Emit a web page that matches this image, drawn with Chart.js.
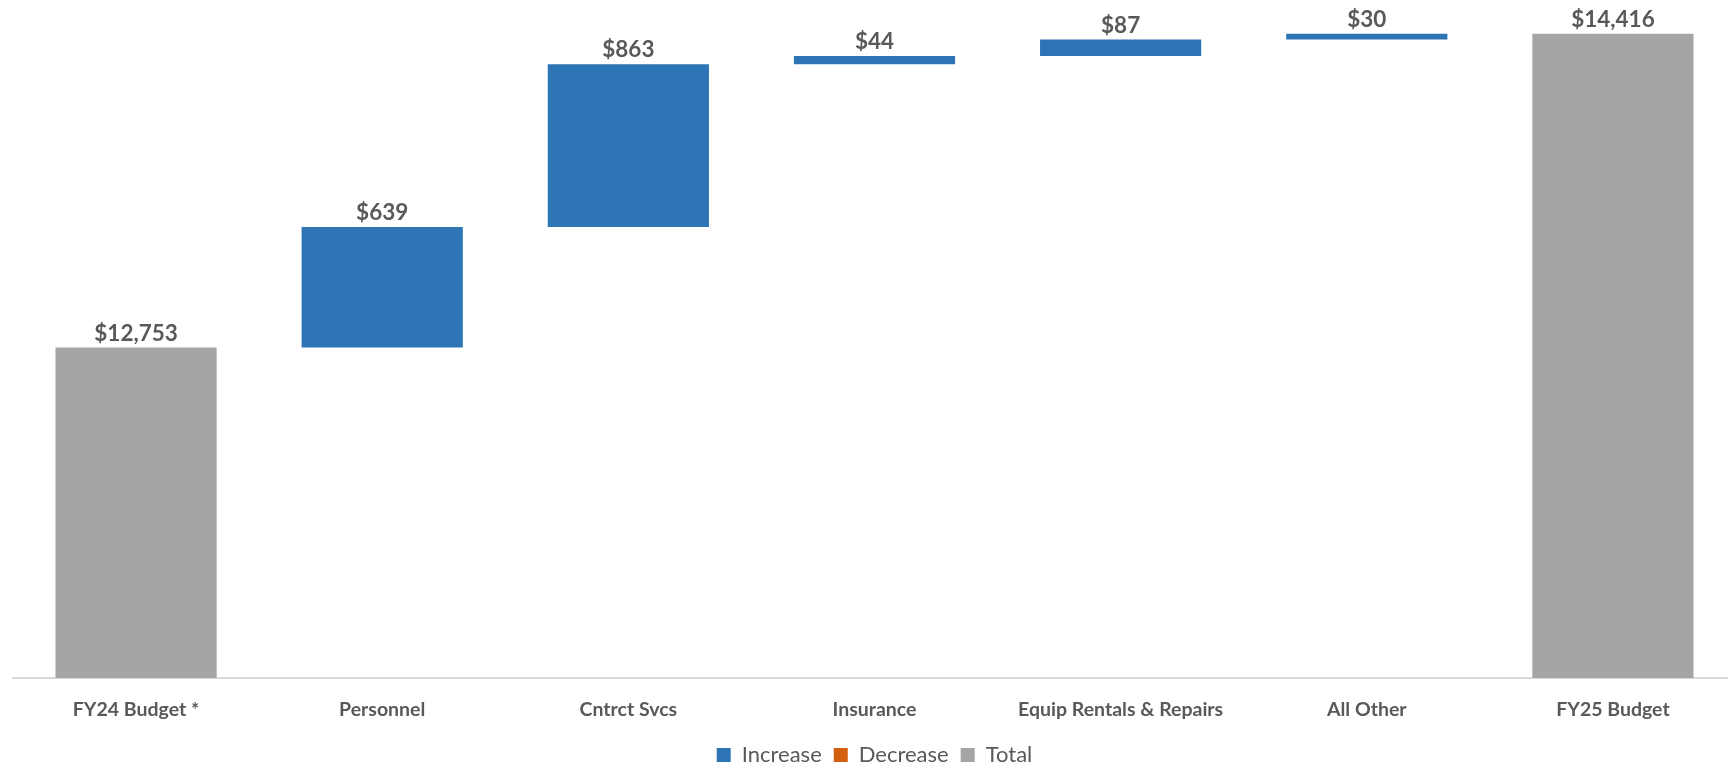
<!DOCTYPE html>
<html>
<head>
<meta charset="utf-8">
<script src="https://cdn.jsdelivr.net/npm/chart.js@4"></script>
<style>
  html, body { margin: 0; padding: 0; background: #fff; overflow: hidden; }
  #wrap { width: 1740px; height: 776px; }
</style>
</head>
<body>
<div id="wrap"><canvas id="waterfall"></canvas></div>
<script>
// data
const categories = ['FY24 Budget *', 'Personnel', 'Cntrct Svcs', 'Insurance', 'Equip Rentals & Repairs', 'All Other', 'FY25 Budget'];
const startTotal = 12753;
const endTotal = 14416;
const changes = [null, 639, 863, 44, 87, 30, null];
const axisMin = 11000;
const axisMax = 14500;

function money(v) {
    return '$' + Math.abs(v).toString().replace(/\B(?=(\d{3})+(?!\d))/g, ',');
}

// build floating bars from the running total
let running = startTotal;
const incData = [], decData = [], totData = [], labels = [];
categories.forEach(function(c, i) {
    if (i === 0) {
        totData.push([axisMin, startTotal]); incData.push(null); decData.push(null);
        labels.push({ top: startTotal, text: money(startTotal) });
    } else if (i === categories.length - 1) {
        totData.push([axisMin, endTotal]); incData.push(null); decData.push(null);
        labels.push({ top: endTotal, text: money(endTotal) });
    } else {
        const next = running + changes[i];
        if (changes[i] >= 0) { incData.push([running, next]); decData.push(null); }
        else { decData.push([next, running]); incData.push(null); }
        totData.push(null);
        labels.push({ top: Math.max(running, next), text: money(changes[i]) });
        running = next;
    }
});

const valueLabels = {
    id: 'valueLabels',
    afterDatasetsDraw(chart) {
        const ctx = chart.ctx;
        const x = chart.scales.x, y = chart.scales.y;
        ctx.save();
        ctx.font = 'bold 22.5px Lato';
        ctx.fillStyle = '#595959';
        ctx.textAlign = 'center';
        ctx.textBaseline = 'middle';
        labels.forEach(function(l, i) {
            ctx.fillText(l.text, x.getPixelForValue(i), y.getPixelForValue(l.top) - 14);
        });
        ctx.restore();
    }
};

const barOpts = { grouped: false, barPercentage: 0.655, categoryPercentage: 1, borderWidth: 0 };

new Chart(document.getElementById('waterfall'), {
    type: 'bar',
    data: {
        labels: categories,
        datasets: [
            Object.assign({ label: 'Increase', data: incData, backgroundColor: '#2E75B6' }, barOpts),
            Object.assign({ label: 'Decrease', data: decData, backgroundColor: '#D2600F' }, barOpts),
            Object.assign({ label: 'Total', data: totData, backgroundColor: '#A5A5A5' }, barOpts)
        ]
    },
    options: {
        responsive: true,
        maintainAspectRatio: false,
        animation: false,
        layout: { padding: { top: 18, left: 13, right: 4, bottom: 0 } },
        scales: {
            x: {
                grid: { display: false, drawTicks: false },
                border: { display: true, color: '#D9D9D9', width: 2 },
                ticks: { padding: 20, color: '#595959', font: { family: 'Lato', size: 19.5, weight: 'bold' } },
                afterFit: function(scale) { scale.height = 54; }
            },
            y: { display: false, min: axisMin, max: axisMax }
        },
        plugins: {
            legend: {
                position: 'bottom',
                labels: {
                    boxWidth: 14, boxHeight: 14, padding: 12,
                    color: '#595959',
                    font: { family: 'Lato', size: 22 }
                }
            },
            tooltip: { enabled: false }
        }
    },
    plugins: [valueLabels]
});
</script>
</body>
</html>
